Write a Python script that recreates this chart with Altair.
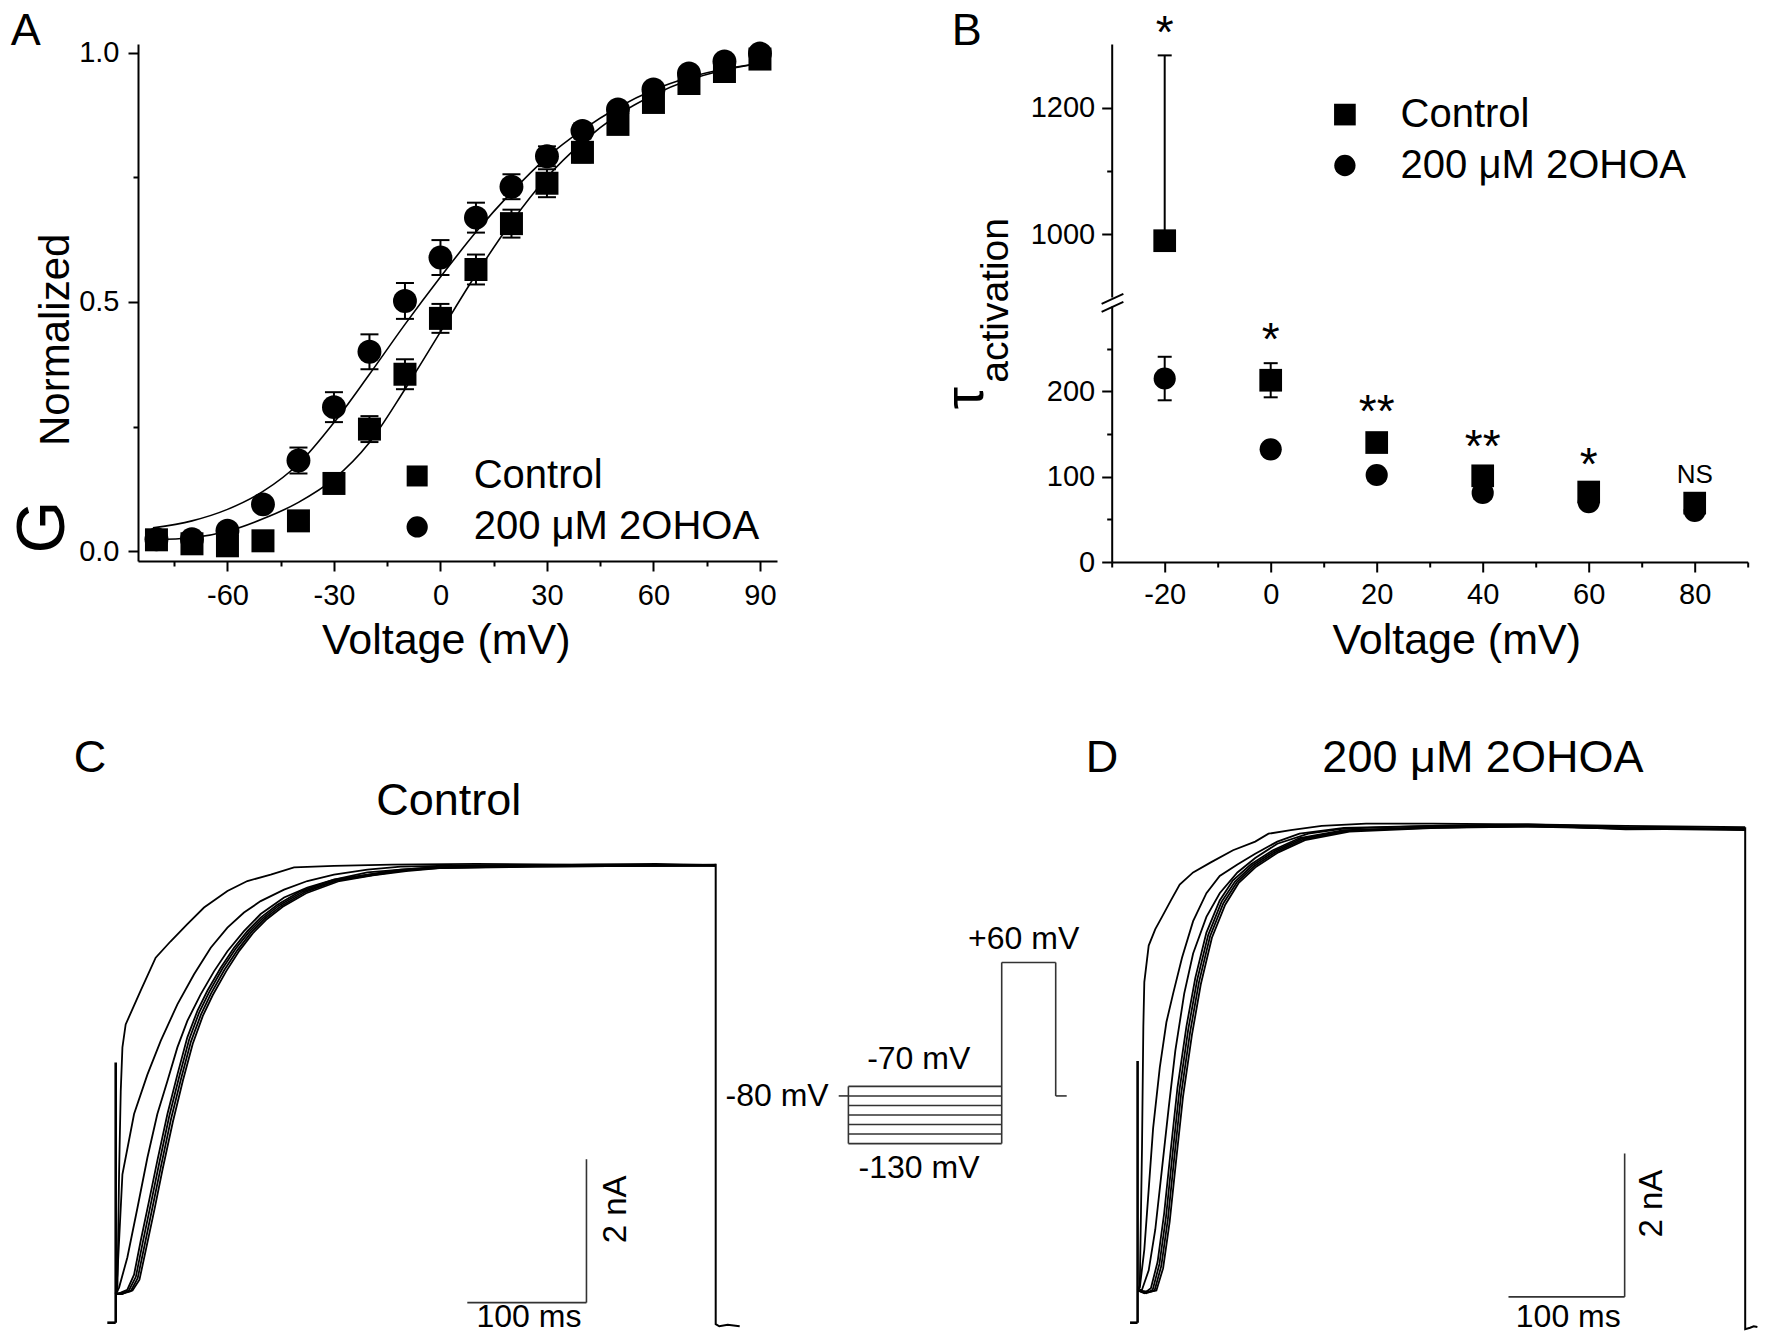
import altair as alt
import pandas as pd

FONT = "Liberation Sans"
LINE = "#000000"
BAR = "#333333"

# ======================= Panel A : G/Gmax vs voltage =======================
A_V = [-80, -70, -60, -50, -40, -30, -20, -10, 0, 10, 20, 30, 40, 50, 60, 70, 80, 90]
A_ctrl = [0.023, 0.015, 0.011, 0.021, 0.061, 0.136, 0.245, 0.355, 0.467, 0.565, 0.657, 0.738, 0.800, 0.856, 0.900, 0.938, 0.962, 0.987]
A_ctrl_err = [0.006, 0.006, 0.006, 0.006, 0.010, 0.014, 0.026, 0.030, 0.029, 0.030, 0.028, 0.028, 0.020, 0.018, 0.015, 0.012, 0.010, 0.008]
A_oh = [0.024, 0.024, 0.041, 0.094, 0.182, 0.289, 0.400, 0.502, 0.589, 0.669, 0.731, 0.792, 0.843, 0.886, 0.926, 0.958, 0.982, 0.998]
A_oh_err = [0.006, 0.006, 0.008, 0.010, 0.026, 0.030, 0.035, 0.036, 0.035, 0.030, 0.025, 0.020, 0.015, 0.012, 0.010, 0.008, 0.006, 0.005]
A_fit_V = [-81, -70, -60, -50, -40, -30, -20, -10, 0, 10, 20, 30, 40, 50, 60, 70, 80, 90]
A_fit_ctrl = [0.023, 0.027, 0.040, 0.065, 0.098, 0.145, 0.218, 0.325, 0.440, 0.555, 0.660, 0.750, 0.820, 0.875, 0.915, 0.945, 0.965, 0.978]
A_fit_oh = [0.047, 0.061, 0.084, 0.120, 0.175, 0.258, 0.355, 0.455, 0.550, 0.640, 0.720, 0.790, 0.845, 0.890, 0.925, 0.950, 0.967, 0.978]

# ======================= Panel B : tau activation =======================
B_V = [-20, 0, 20, 40, 60, 80]
B_ctrl = [990, 213, 140, 101, 82, 69]
B_ctrl_err = [293, 20, 0, 0, 0, 0]
B_oh = [215, 132, 102, 81, 70, 60]
B_oh_err = [25.5, 0, 0, 0, 0, 0]
B_sig = ["*", "*", "**", "**", "*", "NS"]
B_sig_y = [1294, 242.6, 158.3, 117.2, 95.6, 93]
BRK_X1 = [-31.9, -31.9]
BRK_X2 = [-27.8, -27.8]
BRK_Y1 = [302.5, 293.1]
BRK_Y2 = [314.2, 304.8]

# ======================= Panel C : control current traces (t ms, I nA) =======================
C_traces = {
    "c1": ([0.0, 1.4, 2.8, 4.2, 5.6, 8.3, 20.8, 33.3, 45.8, 59.7, 73.6, 93.1, 109.7, 129.2, 148.6, 181.9, 230, 300, 380, 450, 500],
           [0.40, 0.44, 2.07, 3.23, 3.84, 4.16, 4.63, 5.09, 5.32, 5.56, 5.79, 6.02, 6.16, 6.25, 6.35, 6.37, 6.39, 6.40, 6.39, 6.40, 6.38]),
    "c2": ([0.0, 1.4, 5.6, 15.3, 26.4, 37.5, 51.4, 65.3, 79.2, 93.1, 106.9, 120.8, 140.3, 159.7, 181.9, 209.7, 237.5, 300, 400, 500],
           [0.40, 0.67, 2.07, 2.91, 3.46, 3.93, 4.44, 4.86, 5.23, 5.51, 5.72, 5.88, 6.04, 6.16, 6.25, 6.32, 6.36, 6.38, 6.39, 6.38]),
    "c3": ([0.0, 2.8, 9.7, 18.1, 26.4, 34.7, 43.1, 51.4, 59.7, 70.8, 81.9, 93.1, 106.9, 120.8, 140.3, 159.7, 181.9, 209.7, 237.5, 265.3, 350, 500],
           [0.40, 0.49, 0.91, 1.60, 2.30, 2.91, 3.37, 3.84, 4.21, 4.58, 4.90, 5.18, 5.46, 5.70, 5.93, 6.07, 6.18, 6.28, 6.32, 6.35, 6.38, 6.37]),
    "c4": ([0.0, 4.2, 9.7, 15.3, 20.8, 27.8, 34.7, 43.1, 51.4, 59.7, 68.1, 76.4, 87.5, 98.6, 109.7, 120.8, 134.7, 154.2, 181.9, 209.7, 237.5, 265.3, 350, 500],
           [0.40, 0.42, 0.46, 0.67, 1.14, 1.70, 2.26, 2.91, 3.46, 3.98, 4.35, 4.63, 4.95, 5.23, 5.46, 5.65, 5.83, 6.02, 6.18, 6.25, 6.32, 6.35, 6.37, 6.38]),
    "c5": ([0.0, 5.5, 11.0, 16.8, 22.3, 29.3, 36.2, 44.6, 52.9, 61.2, 69.6, 77.9, 89.0, 100.1, 111.2, 122.3, 136.2, 155.7, 183.4, 211.2, 239.0, 266.8, 350, 500],
           [0.40, 0.40, 0.45, 0.64, 1.10, 1.66, 2.22, 2.88, 3.43, 3.95, 4.33, 4.61, 4.94, 5.22, 5.45, 5.64, 5.82, 6.01, 6.17, 6.25, 6.31, 6.35, 6.36, 6.38]),
    "c6": ([0.0, 6.5, 12.5, 18.3, 23.8, 30.8, 37.7, 46.1, 54.4, 62.7, 71.1, 79.4, 90.5, 101.6, 112.7, 123.8, 137.7, 157.2, 184.9, 212.7, 240.5, 268.3, 350, 500],
           [0.40, 0.41, 0.44, 0.62, 1.06, 1.62, 2.18, 2.84, 3.40, 3.92, 4.30, 4.59, 4.92, 5.20, 5.44, 5.63, 5.81, 6.00, 6.17, 6.24, 6.31, 6.34, 6.37, 6.39]),
    "c7": ([0.0, 7.5, 14.0, 19.8, 25.3, 32.3, 39.2, 47.6, 55.9, 64.2, 72.6, 80.9, 92.0, 103.1, 114.2, 125.3, 139.2, 158.7, 186.4, 214.2, 242.0, 269.8, 350, 500],
           [0.40, 0.42, 0.45, 0.60, 1.03, 1.58, 2.15, 2.80, 3.37, 3.89, 4.28, 4.57, 4.90, 5.19, 5.43, 5.62, 5.80, 5.99, 6.16, 6.24, 6.30, 6.34, 6.36, 6.38]),
}
C_end_t = [500, 500, 503, 510, 520]
C_end_I = [6.40, -0.02, -0.05, -0.03, -0.05]

# ======================= Panel D : 2OHOA current traces =======================
D_traces = {
    "d1": ([0.0, 1.8, 3.6, 4.7, 5.5, 9.1, 14.5, 20.0, 27.3, 34.5, 45.5, 60.0, 78.2, 96.4, 107.3, 125.5, 150.9, 187.3, 241.8, 320, 400, 498],
           [0.45, 0.52, 2.43, 4.13, 4.75, 5.26, 5.49, 5.66, 5.89, 6.11, 6.28, 6.42, 6.59, 6.71, 6.82, 6.87, 6.93, 6.96, 6.96, 6.95, 6.93, 6.91]),
    "d2": ([0.0, 1.8, 5.5, 9.1, 12.7, 18.2, 23.6, 29.1, 36.4, 45.5, 56.4, 67.3, 81.8, 96.4, 114.5, 132.7, 169.1, 240, 320, 400, 498],
           [0.45, 0.49, 1.02, 1.86, 2.71, 3.56, 4.19, 4.59, 5.09, 5.60, 5.99, 6.23, 6.39, 6.54, 6.71, 6.82, 6.90, 6.93, 6.95, 6.91, 6.89]),
    "d3": ([0.0, 3.6, 9.1, 14.5, 20.0, 25.5, 30.9, 38.2, 45.5, 56.4, 67.3, 81.8, 96.4, 114.5, 140.0, 169.1, 240, 320, 400, 498],
           [0.45, 0.46, 0.73, 1.30, 2.15, 3.00, 3.79, 4.59, 5.15, 5.66, 5.99, 6.28, 6.48, 6.68, 6.82, 6.89, 6.93, 6.94, 6.90, 6.88]),
    "d4": ([0.0, 5.5, 10.9, 16.4, 21.8, 27.3, 32.7, 40.0, 47.3, 56.4, 67.3, 78.2, 92.7, 110.9, 132.7, 169.1, 241.8, 320, 400, 498],
           [0.45, 0.41, 0.48, 0.85, 1.53, 2.43, 3.28, 4.13, 4.81, 5.44, 5.89, 6.17, 6.39, 6.59, 6.76, 6.87, 6.90, 6.93, 6.89, 6.87]),
    "d5": ([0.0, 7.0, 12.4, 17.9, 23.3, 28.8, 34.2, 41.5, 48.8, 57.9, 68.8, 79.7, 94.2, 112.4, 134.2, 170.6, 243, 320, 400, 498],
           [0.45, 0.41, 0.46, 0.82, 1.48, 2.38, 3.23, 4.09, 4.78, 5.41, 5.87, 6.15, 6.38, 6.58, 6.75, 6.86, 6.91, 6.92, 6.90, 6.88]),
    "d6": ([0.0, 8.5, 13.9, 19.4, 24.8, 30.3, 35.7, 43.0, 50.3, 59.4, 70.3, 81.2, 95.7, 113.9, 135.7, 172.1, 244, 320, 400, 498],
           [0.45, 0.42, 0.45, 0.79, 1.44, 2.34, 3.19, 4.05, 4.75, 5.39, 5.85, 6.14, 6.37, 6.57, 6.74, 6.86, 6.92, 6.94, 6.88, 6.89]),
    "d7": ([0.0, 10.0, 15.4, 20.9, 26.3, 31.8, 37.2, 44.5, 51.8, 60.9, 71.8, 82.7, 97.2, 115.4, 137.2, 173.6, 245, 320, 400, 498],
           [0.45, 0.43, 0.45, 0.76, 1.41, 2.30, 3.15, 4.01, 4.72, 5.37, 5.83, 6.13, 6.36, 6.56, 6.73, 6.85, 6.90, 6.92, 6.89, 6.88]),
}
D_end_t = [498, 498, 502, 505, 508]
D_end_I = [6.91, -0.09, -0.07, -0.05, -0.06]

# ======================= Voltage protocol (mV) =======================
P_pre_V = [-70, -80, -90, -100, -110, -120, -130]
P_hold_V = -80
P_test_V = 60
P_times = [0.0, 9.7, 163.0, 217.0, 228.0]   # hold start, prepulse start, test start, test end, tail end


# ======================= helpers =======================
def ax(values, major, fmt_expr, pad, size=29):
    return alt.Axis(
        values=values, title=None, grid=False,
        domainColor="black", domainWidth=2, tickColor="black", tickWidth=2,
        tickSize={"condition": {"test": major, "value": 10}, "value": 5},
        labelExpr=f"({major}) ? {fmt_expr} : ''",
        labelFont=FONT, labelFontSize=size, labelColor="black",
        labelPadding=pad, labelOverlap=False, labelFlush=False,
    )


def scale(lo, hi):
    return alt.Scale(domain=[lo, hi], nice=False, zero=False)


def text(X, Y, x, y, s, size, align="left", baseline="alphabetic", angle=None):
    kw = dict(font=FONT, fontSize=size, align=align, baseline=baseline, color="black")
    if angle is not None:
        kw["angle"] = angle
    df = pd.DataFrame({"x": [x], "y": [y], "s": [s]})
    return alt.Chart(df).mark_text(**kw).encode(x=X, y=Y, text="s:N")


def rules(X, Y, x, x2, y, y2, color=LINE, width=2.0):
    df = pd.DataFrame({"x": x, "x2": x2, "y": y, "y2": y2})
    return alt.Chart(df).mark_rule(color=color, strokeWidth=width).encode(
        x=X, x2="x2:Q", y=Y, y2="y2:Q")


def traces(X, Y, tr, width=1.8):
    rows = []
    for k, (ts, vs) in tr.items():
        for i, (t, v) in enumerate(zip(ts, vs)):
            rows.append({"x": t, "y": v, "k": k, "o": i})
    return alt.Chart(pd.DataFrame(rows)).mark_line(color=LINE, strokeWidth=width).encode(
        x=X, y=Y, detail="k:N", order="o:Q")


def markers(X, Y, xs, ys, shape, size):
    df = pd.DataFrame({"x": xs, "y": ys})
    return alt.Chart(df).mark_point(shape=shape, filled=True, size=size, color="black",
                                    opacity=1, strokeWidth=0).encode(x=X, y=Y)


def caps(X, Y, xs, ys, w):
    df = pd.DataFrame({"x": xs, "y": ys})
    return alt.Chart(df).mark_tick(orient="horizontal", size=w, thickness=2,
                                   color="black", opacity=1).encode(x=X, y=Y)


# ======================= Panel A =======================
AX = alt.X("x:Q", scale=scale(-85.2, 94.8),
           axis=ax([-75, -60, -45, -30, -15, 0, 15, 30, 45, 60, 75, 90],
                   "datum.value % 30 == 0", "'' + datum.value", 10))
AY = alt.Y("y:Q", scale=scale(-0.0195, 1.0172),
           axis=ax([0, 0.25, 0.5, 0.75, 1.0], "datum.value % 0.5 == 0",
                   "format(datum.value, '.1f')", 9))

nf = len(A_fit_V)
fitA = pd.DataFrame({"x": A_fit_V * 2, "y": A_fit_ctrl + A_fit_oh,
                     "k": ["c"] * nf + ["o"] * nf, "o": list(range(nf)) * 2})
A_layers = [
    alt.Chart(fitA).mark_line(color=LINE, strokeWidth=1.6, interpolate="monotone").encode(
        x=AX, y=AY, detail="k:N", order="o:Q"),
    rules(AX, AY, A_V + A_V, A_V + A_V,
          [v - e for v, e in zip(A_ctrl, A_ctrl_err)] + [v - e for v, e in zip(A_oh, A_oh_err)],
          [v + e for v, e in zip(A_ctrl, A_ctrl_err)] + [v + e for v, e in zip(A_oh, A_oh_err)]),
    caps(AX, AY, A_V * 4,
         [v - e for v, e in zip(A_ctrl, A_ctrl_err)] + [v + e for v, e in zip(A_ctrl, A_ctrl_err)]
         + [v - e for v, e in zip(A_oh, A_oh_err)] + [v + e for v, e in zip(A_oh, A_oh_err)], 18),
    markers(AX, AY, A_V, A_ctrl, "square", 529),
    markers(AX, AY, A_V, A_oh, "circle", 572),
    # legend
    markers(AX, AY, [-6.56], [0.151], "square", 441),
    markers(AX, AY, [-6.56], [0.0487], "circle", 452),
    text(AX, AY, 9.37, 0.151, "Control", 40, baseline="middle"),
    text(AX, AY, 9.37, 0.0487, "200 \u03bcM 2OHOA", 40, baseline="middle"),
    # labels
    text(AX, AY, -121.06, 1.0152, "A", 45),
    text(AX, AY, 1.63, -0.206, "Voltage (mV)", 43, align="center"),
    text(AX, AY, -106.1, 0.0487, "G", 68, align="center", angle=270),
    text(AX, AY, -104.7, 0.637, "Normalized", 42, align="right", angle=270),
    # layout anchor at page (8, 8)
    alt.Chart(pd.DataFrame({"x": [-121.6], "y": [1.0874]})).mark_point(
        opacity=0, size=1, strokeWidth=0, filled=True).encode(x=AX, y=AY),
]
panelA = alt.layer(*A_layers).properties(width=639, height=517)

# ======================= Panel B =======================
BX_none = alt.X("x:Q", scale=scale(-30, 90), axis=None)
BX = alt.X("x:Q", scale=scale(-30, 90),
           axis=ax([-30, -20, -10, 0, 10, 20, 30, 40, 50, 60, 70, 80, 90],
                   "datum.value % 20 == 0", "'' + datum.value", 8))
BUY = alt.Y("y:Q", scale=scale(901, 1301),
            axis=ax([1000, 1100, 1200], "datum.value % 200 == 0", "'' + datum.value", 7))
BLY = alt.Y("y:Q", scale=scale(0, 300),
            axis=ax([0, 50, 100, 150, 200, 250], "datum.value % 100 == 0", "'' + datum.value", 7))

up_idx = [i for i, v in enumerate(B_ctrl) if v > 300]
lo_c = [i for i, v in enumerate(B_ctrl) if v <= 300]
B_up_layers = [
    rules(BX_none, BUY, [B_V[i] for i in up_idx], [B_V[i] for i in up_idx],
          [B_ctrl[i] for i in up_idx], [B_ctrl[i] + B_ctrl_err[i] for i in up_idx]),
    caps(BX_none, BUY, [B_V[i] for i in up_idx], [B_ctrl[i] + B_ctrl_err[i] for i in up_idx], 14),
    markers(BX_none, BUY, [B_V[i] for i in up_idx], [B_ctrl[i] for i in up_idx], "square", 515),
    text(BX_none, BUY, B_V[0], B_sig_y[0], B_sig[0], 46, align="center"),
    markers(BX_none, BUY, [14.0], [1189.4], "square", 470),
    markers(BX_none, BUY, [14.0], [1108.9], "circle", 452),
    text(BX_none, BUY, 24.5, 1189.4, "Control", 40, baseline="middle"),
    text(BX_none, BUY, 24.5, 1108.9, "200 \u03bcM 2OHOA", 40, baseline="middle"),
    text(BX_none, BUY, -60.2, 1300.1, "B", 45),
]
panelBu = alt.layer(*B_up_layers).properties(width=636, height=253)

eb_c = [i for i in lo_c if B_ctrl_err[i] > 0]
eb_o = [i for i, e in enumerate(B_oh_err) if e > 0]
eb_x = [B_V[i] for i in eb_c] + [B_V[i] for i in eb_o]
eb_lo = [B_ctrl[i] - B_ctrl_err[i] for i in eb_c] + [B_oh[i] - B_oh_err[i] for i in eb_o]
eb_hi = [B_ctrl[i] + B_ctrl_err[i] for i in eb_c] + [B_oh[i] + B_oh_err[i] for i in eb_o]
sig_lo = list(range(1, len(B_V)))
B_lo_layers = [
    rules(BX, BLY, eb_x, eb_x, eb_lo, eb_hi),
    caps(BX, BLY, eb_x + eb_x, eb_lo + eb_hi, 14),
    markers(BX, BLY, [B_V[i] for i in lo_c], [B_ctrl[i] for i in lo_c], "square", 515),
    markers(BX, BLY, B_V, B_oh, "circle", 491),
    rules(BX, BLY, BRK_X1, BRK_X2, BRK_Y1, BRK_Y2, width=2),
    text(BX, BLY, 35.1, -107.9, "Voltage (mV)", 43, align="center"),
    text(BX, BLY, -54.3, 192, "\u03c4", 56, align="center", angle=270),
    text(BX, BLY, -49.6, 210, "activation", 39, align="left", angle=270),
]
for i in sig_lo:
    B_lo_layers.append(text(BX, BLY, B_V[i], B_sig_y[i], B_sig[i],
                            26 if B_sig[i] == "NS" else 46, align="center"))
panelBl = alt.layer(*B_lo_layers).properties(width=636, height=256)

panelB = alt.vconcat(panelBu, panelBl, spacing=9, bounds="flush")

row1 = alt.hconcat(panelA, panelB, spacing=334.7, bounds="flush")

# ======================= Panel C =======================
CX = alt.X("x:Q", scale=scale(18.58, 530.25), axis=None)
CY = alt.Y("y:Q", scale=scale(0, 7.5035), axis=None)
C_layers = [
    traces(CX, CY, C_traces),
    alt.Chart(pd.DataFrame({"x": C_end_t, "y": C_end_I, "o": list(range(len(C_end_t)))}))
       .mark_line(color=LINE, strokeWidth=2).encode(x=CX, y=CY, order="o:Q"),
    rules(CX, CY, [0, -7], [0, 0], [0, 0], [3.63, 0], width=2.6),
    rules(CX, CY, [293, 392.3], [392.3, 392.3], [0.28, 0.28], [0.28, 2.28], color=BAR, width=1.6),
    text(CX, CY, -35, 7.68, "C", 45),
    text(CX, CY, 277.5, 7.08, "Control", 45, align="center"),
    text(CX, CY, 344.4, -0.065, "100 ms", 32, align="center"),
    text(CX, CY, 425, 1.58, "2 nA", 33, align="center", angle=270),
]
panelC = alt.layer(*C_layers).properties(width=614, height=538)

# ======================= Protocol =======================
PX = alt.X("x:Q", scale=scale(-41.1, 228.0), axis=None)
PY = alt.Y("y:Q", scale=scale(-317.9, 246.5), axis=None)
t0, t1, t2, t3, t4 = P_times
n_pre = len(P_pre_V)
P_layers = [
    rules(PX, PY, [t1] * n_pre, [t2] * n_pre, P_pre_V, P_pre_V, color=BAR, width=1.6),
    rules(PX, PY,
          [t0, t1, t2, t2, t3, t3],
          [t1, t1, t2, t3, t3, t4],
          [P_hold_V, max(P_pre_V), min(P_pre_V), P_test_V, P_test_V, P_hold_V],
          [P_hold_V, min(P_pre_V), P_test_V, P_test_V, P_hold_V, P_hold_V],
          color=BAR, width=1.6),
    text(PX, PY, 185, 74.4, "+60 mV", 32, align="center"),
    text(PX, PY, 80, -51.6, "-70 mV", 32, align="center"),
    text(PX, PY, -10, -90.4, "-80 mV", 32, align="right"),
    text(PX, PY, 80.3, -165.7, "-130 mV", 32, align="center"),
]
panelP = alt.layer(*P_layers).properties(width=269.1, height=538)

# ======================= Panel D =======================
DX = alt.X("x:Q", scale=scale(-20.0, 506.2), axis=None)
DY = alt.Y("y:Q", scale=scale(0, 7.5035), axis=None)
D_layers = [
    traces(DX, DY, D_traces),
    alt.Chart(pd.DataFrame({"x": D_end_t, "y": D_end_I, "o": list(range(len(D_end_t)))}))
       .mark_line(color=LINE, strokeWidth=2).encode(x=DX, y=DY, order="o:Q"),
    rules(DX, DY, [0, -6.2], [0, 0], [0, 0], [3.65, 0], width=2.6),
    rules(DX, DY, [304, 399.2], [399.2, 399.2], [0.36, 0.36], [0.36, 2.36], color=BAR, width=1.6),
    text(DX, DY, -42.6, 7.68, "D", 45),
    text(DX, DY, 283, 7.68, "200 \u03bcM 2OHOA", 45, align="center"),
    text(DX, DY, 353, -0.065, "100 ms", 32, align="center"),
    text(DX, DY, 430, 1.66, "2 nA", 33, align="center", angle=270),
]
panelD = alt.layer(*D_layers).properties(width=642, height=538)

row2 = alt.hconcat(panelC, panelP, panelD, spacing=45.6, bounds="flush")

# nested concat groups count as zero height under flush bounds, so the
# row gap includes the first row's 518 px plot height
chart = (
    alt.vconcat(row1, row2, spacing=740.7, bounds="flush")
    .properties(padding=0, background="white")
    .configure_view(stroke=None)
)

chart.save("out.html", embed_options={"renderer": "svg", "actions": False})
